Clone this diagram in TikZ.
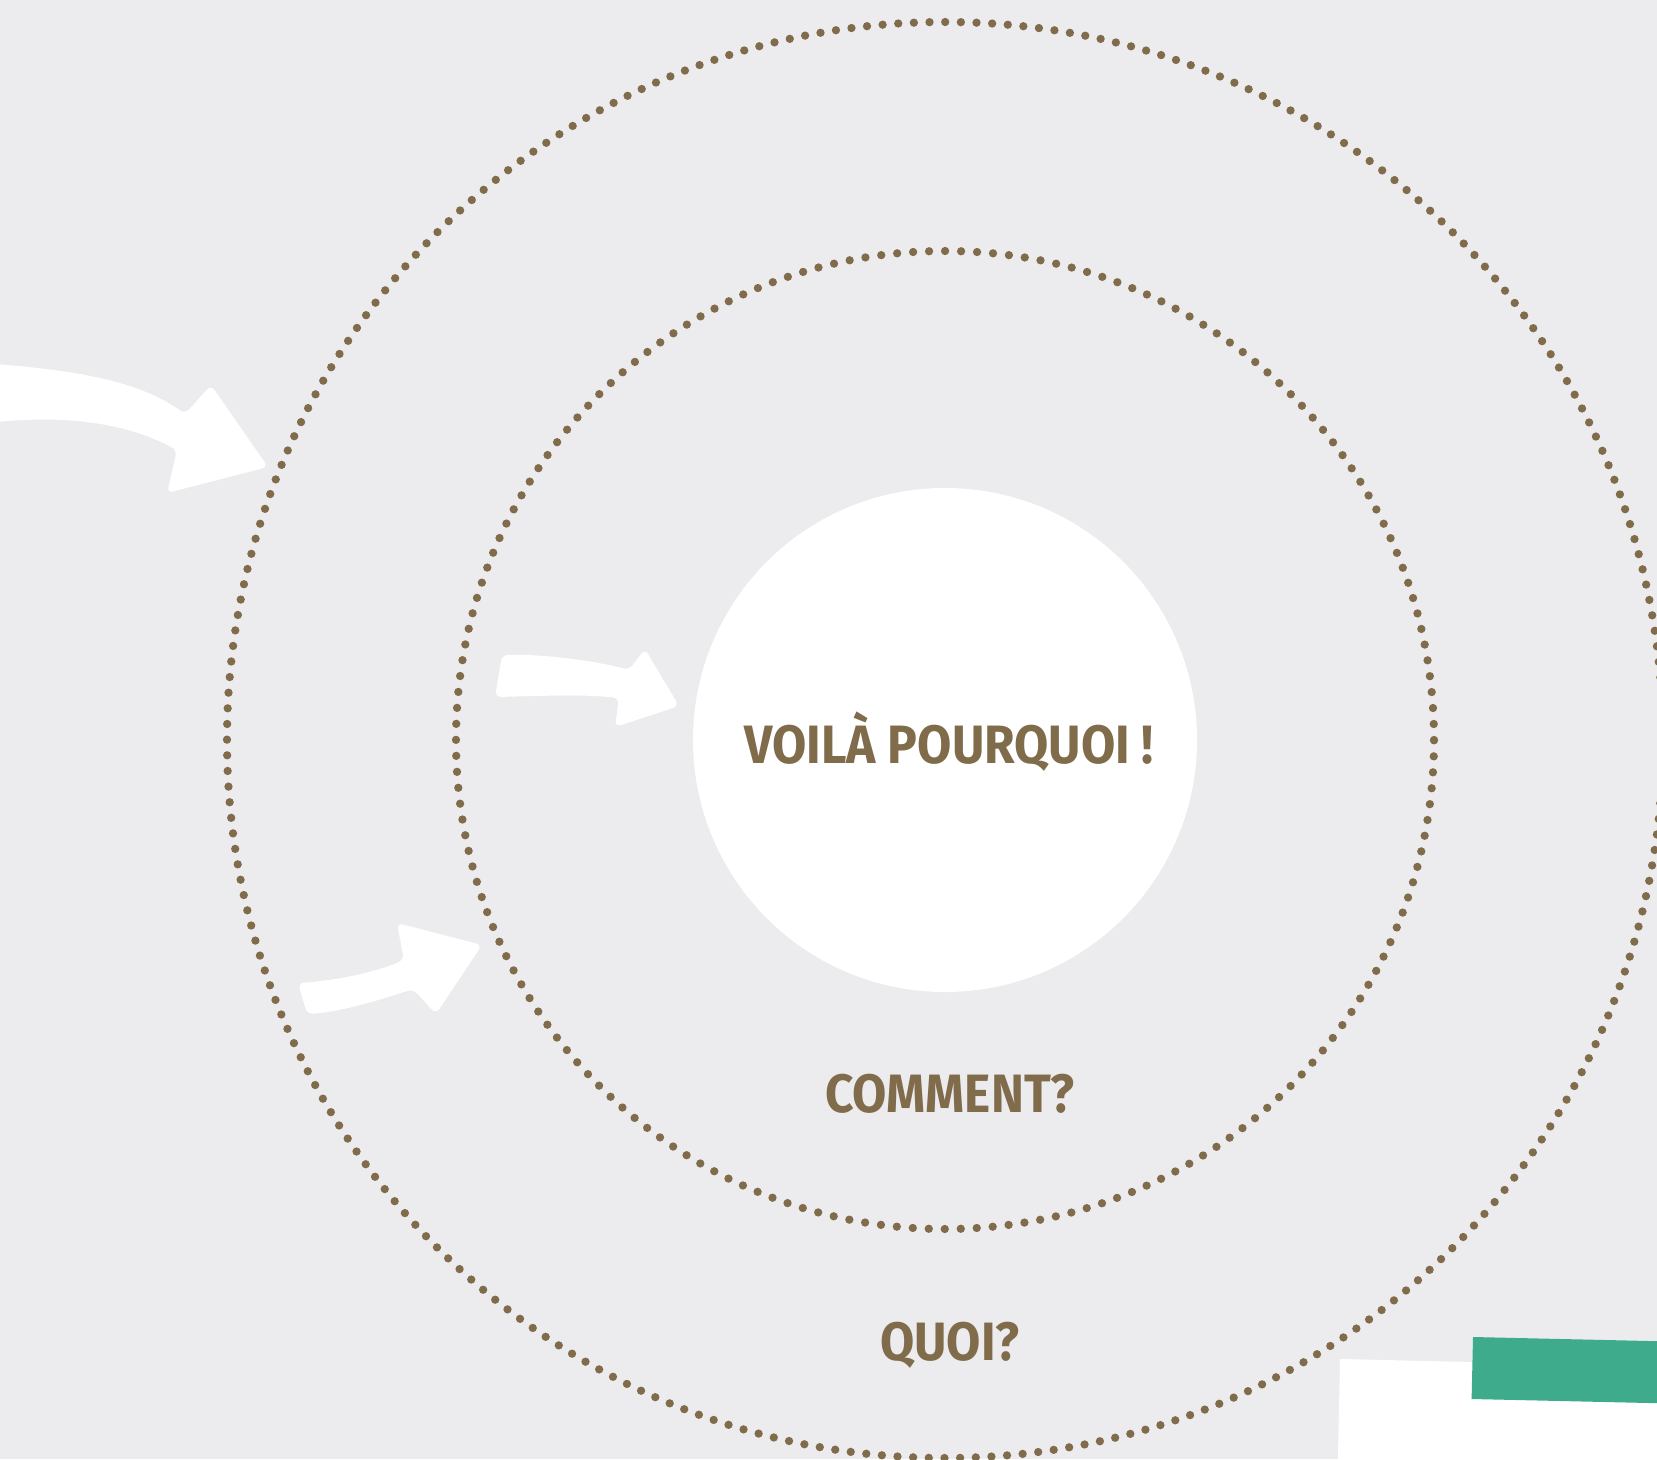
\documentclass[tikz,border=0pt]{standalone}
\usepackage{fontspec}
\newfontfamily\ringfont{Fira Sans}[FakeStretch=0.92]
\definecolor{paper}{RGB}{236,236,239}
\definecolor{taupe}{RGB}{128,107,74}
\definecolor{mintgreen}{RGB}{62,172,140}
\begin{document}
\begin{tikzpicture}[x=1pt,y=-1pt,
  ring/.style={draw=taupe, line width=8.3pt, line cap=round},
  ringtext/.style={text=taupe, font=\ringfont\bfseries\fontsize{54}{60}\selectfont,
    anchor=base, inner sep=0pt},
  fatarrow/.style={fill=white, rounded corners=6pt}]
\fill[paper] (0,0) rectangle (1657,1459);
\useasboundingbox (0,0) rectangle (1657,1459);
\clip (0,0) rectangle (1657,1459);

% dotted rings
\draw[ring, dash pattern=on 0pt off 15.664pt] (945,740) circle[radius=718pt];
\draw[ring, dash pattern=on 0pt off 16.003pt] (945,740) circle[radius=489pt];

% white core
\node[circle, fill=white, minimum size=504pt, inner sep=0pt] (core) at (945,740) {};

% labels
\node[ringtext] (why) at (949,763) {VOILÀ POURQUOI !};
\node[ringtext] (how) at (950,1112) {COMMENT?};
\node[ringtext] (what) at (950,1360) {QUOI?};

% big arrow coming in from the left
\fill[fatarrow] (-20,363) .. controls (80,370) and (140,382) .. (185,414)
  -- (211,385) -- (268,467) -- (167,493) -- (177,450)
  .. controls (130,425) and (70,413) .. (-20,424) -- cycle;

% arrow pointing at the core
\fill[fatarrow] (502,655) .. controls (550,654) and (600,662) .. (629,670)
  -- (645,649) -- (679,706) -- (615,727) -- (619,698)
  .. controls (580,694) and (540,696) .. (495,697) -- cycle;

% arrow pointing at the middle ring
\fill[fatarrow] (298,983) .. controls (340,980) and (375,972) .. (404,960)
  -- (397,923) -- (482,945) -- (436,1014) -- (413,989)
  .. controls (380,1000) and (340,1012) .. (307,1014) -- cycle;

% cards in the corner
\fill[white] (1340,1359) -- (1720,1367.6) -- (1720,1480) -- (1337.5,1480) -- cycle;
\fill[mintgreen] (1473,1337) -- (1720,1342.6) -- (1720,1404.6) -- (1471.6,1399) -- cycle;
\end{tikzpicture}
\end{document}
